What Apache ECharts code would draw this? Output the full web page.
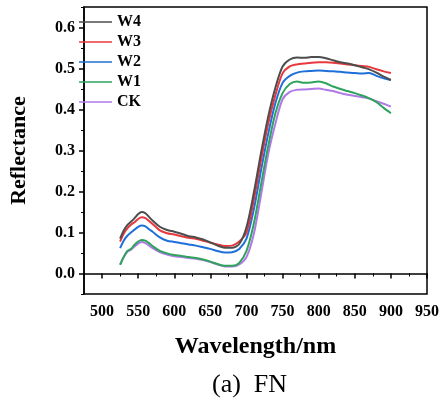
<!DOCTYPE html>
<html><head><meta charset="utf-8">
<script src="https://cdn.jsdelivr.net/npm/echarts@6/dist/echarts.min.js"></script>
<style>html,body{margin:0;padding:0;background:#fff}#c{width:442px;height:404px}</style>
</head><body><div id="c"></div>
<script>
var wavelengths = [525,530,535,540,545,550,555,560,565,570,580,590,600,610,620,630,640,650,660,670,680,690,700,710,720,730,740,750,760,770,780,790,800,810,820,830,840,850,860,870,880,890,900];
var W4 = [0.085,0.105,0.118,0.126,0.135,0.145,0.150,0.147,0.138,0.129,0.114,0.106,0.102,0.097,0.091,0.088,0.083,0.076,0.068,0.063,0.063,0.072,0.113,0.195,0.293,0.382,0.453,0.505,0.522,0.527,0.526,0.528,0.528,0.525,0.520,0.515,0.512,0.508,0.503,0.498,0.490,0.480,0.472];
var W3 = [0.078,0.097,0.110,0.119,0.125,0.133,0.137,0.135,0.128,0.121,0.105,0.098,0.095,0.091,0.087,0.085,0.080,0.075,0.071,0.067,0.068,0.078,0.100,0.178,0.275,0.365,0.435,0.488,0.505,0.510,0.512,0.514,0.515,0.515,0.514,0.512,0.510,0.508,0.506,0.504,0.498,0.493,0.489];
var W2 = [0.062,0.080,0.092,0.100,0.107,0.114,0.117,0.115,0.108,0.102,0.088,0.080,0.077,0.074,0.071,0.068,0.064,0.060,0.055,0.051,0.052,0.060,0.085,0.155,0.250,0.340,0.415,0.465,0.482,0.490,0.493,0.494,0.495,0.494,0.493,0.492,0.490,0.489,0.488,0.489,0.482,0.476,0.472];
var W1 = [0.021,0.040,0.055,0.060,0.070,0.078,0.082,0.080,0.074,0.067,0.055,0.049,0.045,0.043,0.040,0.038,0.034,0.029,0.023,0.019,0.019,0.026,0.055,0.120,0.215,0.310,0.390,0.440,0.462,0.468,0.465,0.466,0.468,0.464,0.456,0.450,0.445,0.440,0.434,0.427,0.418,0.404,0.391];
var CK = [0.022,0.040,0.053,0.058,0.066,0.073,0.077,0.074,0.068,0.062,0.052,0.046,0.042,0.040,0.038,0.036,0.033,0.028,0.022,0.017,0.017,0.022,0.040,0.095,0.190,0.290,0.365,0.425,0.443,0.448,0.449,0.450,0.451,0.448,0.445,0.440,0.436,0.433,0.430,0.427,0.420,0.414,0.407];
var seriesNames = ['W4','W3','W2','W1','CK'];
var seriesValues = [W4, W3, W2, W1, CK];
var xTickLabels = [500,550,600,650,700,750,800,850,900,950];
var yTickLabels = [0.0,0.1,0.2,0.3,0.4,0.5,0.6];
var colors = ['#4d4d4d','#e8383d','#1e6fd9','#2ea35c','#b07ae6'];

var font = 'Liberation Serif';
function pairs(v){ return wavelengths.map(function(w,i){ return [w, v[i]]; }); }
var lbl = {fontFamily: font, fontWeight: 'bold', fontSize: 16, color: '#000'};
var chart = echarts.init(document.getElementById('c'), null, {renderer:'canvas'});
chart.setOption({
  animation: false,
  backgroundColor: '#fff',
  grid: {left: 73, right: 14, top: 7, bottom: 110, show: true, borderColor: '#000', borderWidth: 1.5, backgroundColor: 'transparent'},
  legend: {
    orient: 'vertical', left: 74, top: 9, itemWidth: 33, itemHeight: 10, itemGap: 4,
    icon: 'path://M0,4.2 L33,4.2 L33,5.8 L0,5.8 Z',
    data: seriesNames,
    textStyle: {fontFamily: font, fontWeight: 'bold', fontSize: 16, color: '#000'}
  },
  xAxis: [{
    type: 'value', min: 475, max: 950, interval: 25,
    axisLine: {show: true, lineStyle: {color: '#000', width: 1.5}},
    axisTick: {show: true, inside: false, length: 5, customValues: xTickLabels, lineStyle: {color: '#000', width: 1.5}},
    splitLine: {show: false},
    axisLabel: Object.assign({margin: 10, customValues: xTickLabels}, lbl),
    name: 'Wavelength/nm', nameLocation: 'middle', nameGap: 41,
    nameTextStyle: {fontFamily: font, fontWeight: 'bold', fontSize: 24, color: '#000'}
  }, {
    type: 'value', min: 475, max: 950, interval: 50, position: 'bottom', offset: 0,
    axisLine: {show: false},
    axisTick: {show: true, inside: false, length: 3, lineStyle: {color: '#000', width: 1}},
    axisLabel: {show: false}, splitLine: {show: false}
  }],
  yAxis: [{
    type: 'value', min: -0.05, max: 0.65, interval: 0.05,
    axisLine: {show: true, lineStyle: {color: '#000', width: 1.5}},
    axisTick: {show: true, inside: false, length: 5, customValues: yTickLabels, lineStyle: {color: '#000', width: 1.5}},
    splitLine: {show: false},
    axisLabel: Object.assign({margin: 9, customValues: yTickLabels, formatter: function(v){ return v.toFixed(1); }}, lbl),
    name: 'Reflectance', nameLocation: 'middle', nameGap: 54, nameRotate: 90,
    nameTextStyle: {fontFamily: font, fontWeight: 'bold', fontSize: 22, color: '#000'}
  }, {
    type: 'value', min: -0.05, max: 0.65, interval: 0.1, position: 'left', offset: 0,
    axisLine: {show: false},
    axisTick: {show: true, inside: false, length: 3, lineStyle: {color: '#000', width: 1}},
    axisLabel: {show: false}, splitLine: {show: false}
  }],
  graphic: [{
    type: 'text', left: 212, top: 372,
    style: {text: '(a)  FN', fontFamily: font, fontSize: 26, fill: '#000'}
  }],
  series: seriesNames.map(function(n, i){
    return {name: n, type: 'line', data: pairs(seriesValues[i]), showSymbol: false, symbol: 'none',
      smooth: 0.3, lineStyle: {color: colors[i], width: 2}, itemStyle: {color: colors[i]}, z: 10 - i};
  })
});
</script></body></html>
